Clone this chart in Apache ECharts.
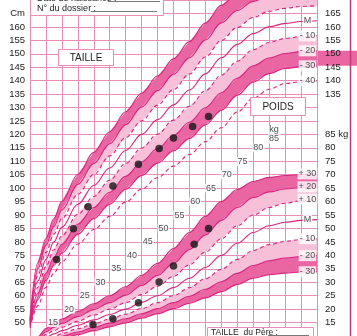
<!DOCTYPE html>
<html><head><meta charset="utf-8">
<script src="https://cdn.jsdelivr.net/npm/echarts@6/dist/echarts.min.js"></script>
<style>html,body{margin:0;padding:0;background:#fff}#c{width:357px;height:336px}</style>
</head><body><div id="c"></div>
<script>
// ages (years) at which the reference curves are read
const ages = [0, 0.5, 1, 1.5, 2, 3, 4, 5, 6, 7, 8, 9, 10, 11, 12, 13, 14, 15, 16, 17, 18];

// Height (cm) curves
const hP3 = [51.5, 72.4, 81.3, 88.7, 95.1, 105.1, 113.3, 121, 128.4, 135.3, 141.7, 148.1, 154.5, 161.4, 168, 172.4, 175.5, 177.4, 178.1, 178.8, 179.1];
const hP2 = [51, 70.1, 78.7, 85.8, 91.9, 101.4, 109.2, 116.5, 123.6, 130.2, 136.3, 142.4, 148.5, 155.1, 161.5, 166.1, 169.5, 171.6, 172.5, 173.2, 173.5];
const hP1 = [50.5, 67.8, 76.1, 82.9, 88.7, 97.7, 105.1, 112, 118.8, 125.1, 130.9, 136.7, 142.5, 148.8, 155, 159.8, 163.5, 165.8, 166.9, 167.6, 167.9];
const hM  = [50, 65.5, 73.5, 80, 85.5, 94, 101, 107.5, 114, 120, 125.5, 131, 136.5, 142.5, 148.5, 153.5, 157.5, 160, 161.3, 162, 162.3];
const hM1 = [49.5, 63.2, 70.9, 77.1, 82.3, 90.3, 96.9, 103, 109.2, 114.9, 120.1, 125.3, 130.5, 136.2, 142, 147.2, 151.5, 154.2, 155.7, 156.4, 156.7];
const hM2 = [49, 60.9, 68.3, 74.2, 79.1, 86.6, 92.8, 98.5, 104.4, 109.8, 114.7, 119.6, 124.5, 129.9, 135.5, 140.9, 145.5, 148.4, 150.1, 150.8, 151.1];
const hM3 = [48.5, 58.6, 65.7, 71.3, 75.9, 82.9, 88.7, 94, 99.6, 104.7, 109.3, 113.9, 118.5, 123.6, 129, 134.6, 139.5, 142.6, 144.5, 145.2, 145.5];
const hM4 = [48, 56.3, 63.1, 68.4, 72.7, 79.2, 84.6, 89.5, 94.8, 99.6, 103.9, 108.2, 112.5, 117.3, 122.5, 128.3, 133.5, 136.8, 138.9, 139.6, 139.9];

// Weight (kg) curves
const wP3 = [4.8, 9.7, 12.8, 14.6, 16.3, 19.1, 22.0, 25.0, 28.3, 32.5, 37.0, 42.5, 48.5, 54.5, 60.0, 64.5, 67.5, 69.0, 69.7, 70.1, 70.3];
const wP2 = [4.3, 8.8, 11.6, 13.2, 14.7, 17.2, 19.8, 22.4, 25.2, 28.8, 32.5, 37.0, 42.2, 47.6, 53.0, 57.8, 61.5, 63.6, 64.7, 65.2, 65.5];
const wP1 = [3.8, 8.0, 10.5, 12.0, 13.3, 15.5, 17.8, 20.0, 22.4, 25.4, 28.5, 32.2, 36.5, 41.2, 46.2, 51.0, 55.0, 57.8, 59.4, 60.3, 60.9];
const wM  = [3.3, 7.2, 9.5, 10.8, 12, 14, 16, 18, 20, 22.5, 25, 28, 31.5, 35.5, 40, 44.5, 48.5, 51, 52.3, 53, 53.3];
const wM1 = [2.9, 6.5, 8.6, 9.8, 10.9, 12.7, 14.5, 16.3, 18.1, 20.2, 22.4, 25.0, 28.0, 31.3, 34.8, 38.5, 41.8, 44.0, 45.2, 45.9, 46.2];
const wM2 = [2.5, 5.9, 7.8, 8.9, 9.9, 11.5, 13.2, 14.8, 16.4, 18.3, 20.2, 22.4, 24.8, 27.4, 30.2, 33.3, 36.2, 38.0, 39.0, 39.6, 39.9];
const wM3 = [2.2, 5.4, 7.1, 8.1, 9.0, 10.5, 12.0, 13.4, 14.9, 16.6, 18.3, 20.2, 22.2, 24.2, 26.5, 29.2, 31.5, 32.8, 33.4, 33.8, 33.9];

// Measurements of the child
const heightAges = [1.67, 2.72, 3.64, 5.2, 6.8, 8.1, 9.0, 10.2, 11.2];
const heights    = [73.5, 84.9, 93.1, 100.8, 108.9, 114.8, 118.7, 122.9, 126.7];
const weightAges = [3.95, 5.2, 6.8, 8.1, 9.0, 10.3, 11.2];
const weights    = [14.3, 16.4, 22.4, 30.1, 36.0, 44.1, 50.0];

// Tick labels
const cmTicksLeft = [50,55,60,65,70,75,80,85,90,95,100,105,110,115,120,125,130,135,140,145,150,155,160];
const cmTicksRight = [135,140,145,150,155,160,165];
const kgTicks = [15,20,25,30,35,40,45,50,55,60,65,70,75,80,85];
const innerKg = [15,20,25,30,35,40,45,50,55,60,65,70,75,80,85];
const heightEndLabels = ['M','- 10','- 20','- 30','- 40'];
const weightEndLabels = ['+ 30','+ 20','+ 10','M','- 10','- 20','- 30'];

const LINE = '#d8267f', DARK = '#ea66a3', LIGHT = '#f7bfd8', GRID = '#e98cb8';
const pairs = arr => ages.map((a,i)=>[a, arr[i]]);
const series = [];
function band(lo, hi, color, yi){
  series.push({type:'custom', yAxisIndex:yi, silent:true, z:1, clip:true,
    data: ages.map((a,i)=>[a, lo[i], hi[i]]),
    encode:{x:0, y:[1,2]},
    renderItem:(params, api)=>{
      if (params.dataIndex !== 0) return null;
      const up = ages.map((a,i)=>api.coord([a, hi[i]]));
      const dn = ages.map((a,i)=>api.coord([a, lo[i]])).reverse();
      return {type:'polygon', shape:{points:up.concat(dn), smooth:0.3},
        style:{fill:color}};
    }});
}
// band continued to the right edge of the page, behind the scale labels
function bandExt(lo, hi, color, yi){
  const n = ages.length - 1;
  series.push({type:'custom', yAxisIndex:yi, silent:true, z:-1, clip:false,
    data:[[ages[n], lo[n], hi[n]]], encode:{x:0, y:[1,2]},
    renderItem:(params, api)=>{
      const a = api.coord([ages[n], hi[n]]), b = api.coord([ages[n], lo[n]]);
      return {type:'rect', shape:{x:a[0], y:a[1], width:api.getWidth()-a[0], height:b[1]-a[1]}, style:{fill:color}};
    }});
}
function curve(arr, yi, dashed, w){
  series.push({type:'line', yAxisIndex:yi, data:pairs(arr), smooth:0.35, smoothMonotone:'x', symbol:'none',
    lineStyle:{color:LINE, width:w||1.1, type: dashed?[4,3]:'solid'}, silent:true, z:3});
}
band(hP1, hP2, LIGHT, 0);
band(hP2, hP3, DARK, 0);
band(hM2, hM1, LIGHT, 0);
band(hM3, hM2, DARK, 0);
bandExt(hM3, hM2, DARK, 0);
band(wP1, wP2, LIGHT, 1);
band(wP2, wP3, DARK, 1);
band(wM2, wM1, LIGHT, 1);
band(wM3, wM2, DARK, 1);
[[hP3,false],[hP2,false],[hP1,true],[hM,false],[hM1,true],[hM2,false],[hM3,false],[hM4,true]].forEach(c=>curve(c[0],0,c[1]));
[[wP3,false],[wP2,false],[wP1,true],[wM,false],[wM1,true],[wM2,false],[wM3,false]].forEach(c=>curve(c[0],1,c[1]));

const lbl = {show:true, position:'inside', formatter:'{b}', color:'#222', fontSize:9, fontFamily:'Liberation Sans, Arial',
    backgroundColor:'#fff', padding:[1,1]};
const hEnd = [hM, hM1, hM2, hM3, hM4];
series.push({type:'scatter', yAxisIndex:0, symbolSize:0, silent:true, z:6,
  data: hEnd.map((a,i)=>({value:[17.4, a[a.length-1]], name:heightEndLabels[i]})), label:lbl});
const wEnd = [wP3, wP2, wP1, wM, wM1, wM2, wM3];
series.push({type:'scatter', yAxisIndex:1, symbolSize:0, silent:true, z:6,
  data: wEnd.map((a,i)=>({value:[17.4, a[a.length-1]], name:weightEndLabels[i]})), label:lbl});
series.push({type:'scatter', yAxisIndex:1, symbolSize:0, silent:true, z:6,
  data: innerKg.map(w=>({value:[1.45+(w-15)/5*0.99, w], name: w===85 ? 'kg\n85' : String(w)})),
  label:{show:true, position:'inside', formatter:'{b}', color:'#222', fontSize:9, lineHeight:9, fontFamily:'Liberation Sans, Arial',
    backgroundColor:'#fff', padding:[0,1]}});
series.push({type:'scatter', yAxisIndex:0, symbolSize:7.5, itemStyle:{color:'#151515'}, z:8,
  data: heightAges.map((a,i)=>[a, heights[i]])});
series.push({type:'scatter', yAxisIndex:1, symbolSize:7.5, itemStyle:{color:'#151515'}, z:8,
  data: weightAges.map((a,i)=>[a, weights[i]])});

const PXCM = 314/110;
const gridTop = 17 - 10*PXCM, gridH = 125*PXCM;
const lblFont = {color:'#222', fontSize:9.5, fontFamily:'Liberation Sans, Arial'};
const option = {
  animation:false,
  grid:{left:30, width:287, top:gridTop, height:gridH},
  xAxis:{type:'value', min:0, max:18, interval:1, axisLine:{show:false}, axisTick:{show:false}, axisLabel:{show:false},
    splitLine:{show:true, lineStyle:{color:GRID, width:1}}},
  yAxis:[
    {type:'value', position:'left', min:45, max:170, interval:5, axisLine:{show:false}, axisTick:{show:false},
     splitLine:{show:true, lineStyle:{color:GRID, width:1}},
     axisLabel:Object.assign({margin:5, formatter:v=> cmTicksLeft.includes(v)? String(v) : (v===165?'Cm':'')}, lblFont)},
    {type:'value', position:'right', min:10, max:135, interval:5, axisLine:{show:false}, axisTick:{show:false}, splitLine:{show:false},
     axisLabel:Object.assign({margin:8, formatter:v=> kgTicks.includes(v)? (v===85?'85 kg':String(v)) : ''}, lblFont)},
    {type:'value', position:'right', min:45, max:170, interval:5, axisLine:{show:false}, axisTick:{show:false}, splitLine:{show:false},
     axisLabel:Object.assign({margin:8, formatter:v=> cmTicksRight.includes(v)? String(v) : ''}, lblFont)}
  ],
  series: series,
  graphic:[
    {type:'line', shape:{x1:350.5,y1:0,x2:350.5,y2:336}, style:{stroke:'#c0397a', lineWidth:1.5}, z:20},
    {type:'rect', shape:{x:30.5,y:-6,width:133,height:21.5}, style:{fill:'#fff', stroke:GRID, lineWidth:1}, z:20},
    {type:'text', x:37, y:3.5, style:{text:'Date de naissance :', fill:'#222', font:'9px Liberation Sans', textVerticalAlign:'bottom'}, z:21},
    {type:'line', shape:{x1:108,y1:1.5,x2:160,y2:1.5}, style:{stroke:'#555', lineWidth:0.8}, z:21},
    {type:'text', x:37, y:9, style:{text:'N° du dossier :', fill:'#222', font:'9px Liberation Sans', textVerticalAlign:'middle'}, z:21},
    {type:'line', shape:{x1:91,y1:11.5,x2:157,y2:11.5}, style:{stroke:'#555', lineWidth:0.8}, z:21},
    {type:'rect', shape:{x:58.5,y:49.5,width:55,height:16}, style:{fill:'#fff', stroke:GRID, lineWidth:1}, z:20},
    {type:'text', x:86, y:58, style:{text:'TAILLE', fill:'#222', font:'10px Liberation Sans', textAlign:'center', textVerticalAlign:'middle'}, z:21},
    {type:'rect', shape:{x:250.5,y:97.5,width:55,height:18}, style:{fill:'#fff', stroke:GRID, lineWidth:1}, z:20},
    {type:'text', x:278, y:107, style:{text:'POIDS', fill:'#222', font:'10px Liberation Sans', textAlign:'center', textVerticalAlign:'middle'}, z:21},
    {type:'rect', shape:{x:207.5,y:327.5,width:106,height:20}, style:{fill:'#fff', stroke:GRID, lineWidth:1}, z:20},
    {type:'text', x:211, y:332.5, style:{text:'TAILLE  du Père :', fill:'#222', font:'8.5px Liberation Sans', textVerticalAlign:'middle'}, z:21},
    {type:'line', shape:{x1:268,y1:335.5,x2:309,y2:335.5}, style:{stroke:'#555', lineWidth:0.8}, z:21}
  ]
};
const chart = echarts.init(document.getElementById('c'));
chart.setOption(option);
</script></body></html>
